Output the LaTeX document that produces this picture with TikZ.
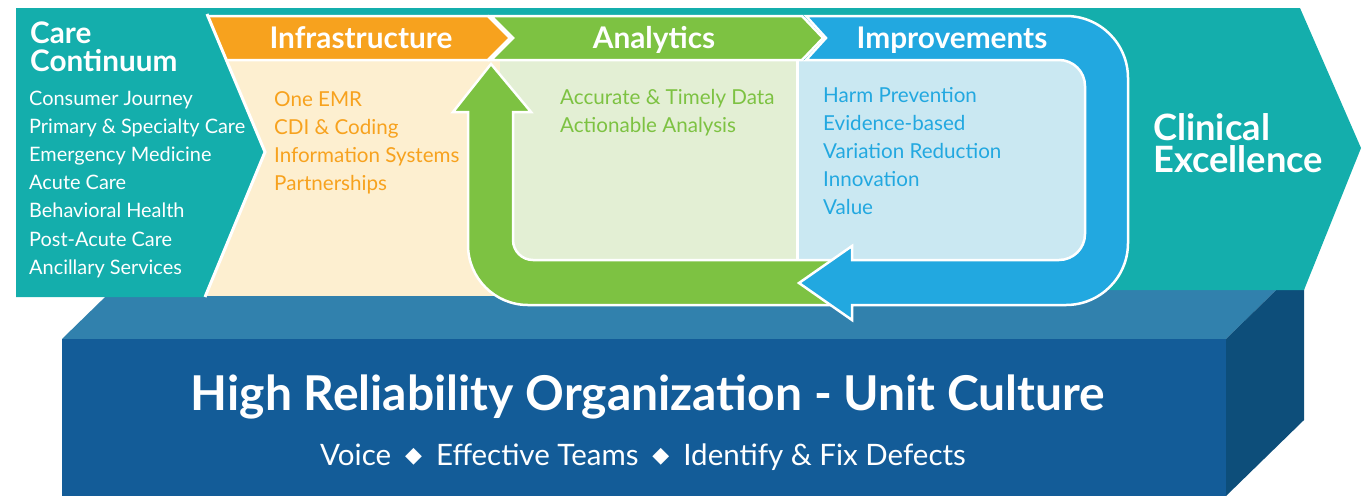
\documentclass[tikz,border=0pt]{standalone}
\usepackage{fontspec}
\setmainfont{Lato}
\newfontfamily\symfont{DejaVu Sans}

\definecolor{careteal}{HTML}{14AEAC}
\definecolor{infraorange}{HTML}{F7A21E}
\definecolor{infracream}{HTML}{FDEFD0}
\definecolor{anagreen}{HTML}{7DC242}
\definecolor{analight}{HTML}{E3EFD4}
\definecolor{impblue}{HTML}{22A8E0}
\definecolor{implight}{HTML}{CAE8F2}
\definecolor{hrofront}{HTML}{135C98}
\definecolor{hrotop}{HTML}{3181AD}
\definecolor{hroside}{HTML}{0D4E7A}

\newcommand{\sep}{\hspace{14pt}\raisebox{2.5pt}{\symfont\fontsize{22}{22}\selectfont ◆}\hspace{14pt}}

\begin{document}
\begin{tikzpicture}[x=1pt, y=-1pt,
    listtext/.style={anchor=base west, inner sep=0pt, font=\fontsize{20.6}{20.6}\selectfont},
    headtext/.style={anchor=base, inner sep=0pt, text=white, font=\fontsize{29.8}{29.8}\selectfont\bfseries},
    whiteline/.style={draw=white, line width=2.5pt, line join=miter}]
            \useasboundingbox (0,0) rectangle (1362,496);
            % Sockel
            \fill [hrotop] (62,339) -- (1226,339) -- (1304,263) -- (140,263) -- cycle;
            \fill [hroside] (1226,339) -- (1304,263) -- (1304,420) -- (1226,496) -- cycle;
            \fill [hrofront] (62,339) rectangle (1226,496);
            % Band
            \fill [careteal] (16,8) -- (1300,8) -- (1361,148) -- (1304,290) -- (16,290) -- cycle;
            % Felder
            \fill [infracream] (195,60) rectangle (500,296);
            \fill [analight] (500,60) rectangle (797,262);
            \fill [implight] (797,60) rectangle (1085,260);
            \draw [white, line width=3pt] (797,60) -- (797,262);
            % Kopfzeilen
            \filldraw [fill=infraorange, whiteline] (190,16) -- (488,16) -- (510,38) -- (488,60) -- (190,60) -- cycle;
            \filldraw [fill=anagreen, whiteline] (491,16) -- (802,16) -- (823,38) -- (802,60) -- (491,60) -- (513,38) -- cycle;
            % Care Continuum
            \fill [careteal] (16,8) -- (204.5,8) -- (265,152) -- (205,297) -- (16,297) -- cycle;
            \draw [white, line width=3pt] (207,14) -- (265,152) -- (205,297);
            % Kreislauf
            \filldraw [fill=anagreen, whiteline] (491,64) -- (531,112) -- (513,112) -- (513,240) arc (180:90:20)
                -- (840,260) -- (840,305) -- (528,305) arc (90:180:60) -- (468,112) -- (453,112) -- cycle;
            \filldraw [fill=impblue, whiteline] (806,16) -- (1066,16) arc (-90:0:62) -- (1128,243) arc (0:90:62)
                -- (852,305) -- (852,320) -- (799,283) -- (852,246) -- (852,260) -- (1059,260) arc (90:0:26)
                -- (1085,86) arc (0:-90:26) -- (806,60) -- (826,38) -- cycle;
            % Texte
            \node [anchor=base west, inner sep=0pt, align=left, text=white, font=\fontsize{29.7}{28}\selectfont\bfseries] (care) at (30,71) {Care\\Continuum};
            \foreach \t [count=\i] in {Consumer Journey, Primary \& Specialty Care, Emergency Medicine, Acute Care,
                Behavioral Health, Post-Acute Care, Ancillary Services}
                \node [listtext, text=white, font=\fontsize{19.9}{19.9}\selectfont] (care\i) at (29,{105+28.2*(\i-1)}) {\t};
            \node [headtext] (infra) at (361,48) {Infrastructure};
            \node [headtext] (ana) at (654,48) {Analytics};
            \node [headtext] (imp) at (952,48) {Improvements};
            \foreach \t [count=\i] in {One EMR, CDI \& Coding, Information Systems, Partnerships}
                \node [listtext, text=infraorange] (infra\i) at (274,{106+28.3*(\i-1)}) {\t};
            \foreach \t [count=\i] in {Accurate \& Timely Data, Actionable Analysis}
                \node [listtext, text=anagreen] (ana\i) at (560,{104+28*(\i-1)}) {\t};
            \foreach \t [count=\i] in {Harm Prevention, Evidence-based, Variation Reduction, Innovation, Value}
                \node [listtext, text=impblue] (imp\i) at (823,{102+28*(\i-1)}) {\t};
            \node [anchor=base west, inner sep=0pt, align=left, text=white, font=\fontsize{36.3}{32}\selectfont\bfseries] (clin) at (1153,172) {Clinical\\Excellence};
            \node [anchor=base, inner sep=0pt, text=white, font=\fontsize{48}{48}\selectfont\bfseries] (hro) at (648,410) {High Reliability Organization - Unit Culture};
            \node [anchor=base, inner sep=0pt, text=white, font=\fontsize{29.5}{29.5}\selectfont] (unit) at (643,465)
                {Voice\sep Effective Teams\sep Identify \& Fix Defects};
        \end{tikzpicture}
\end{document}
